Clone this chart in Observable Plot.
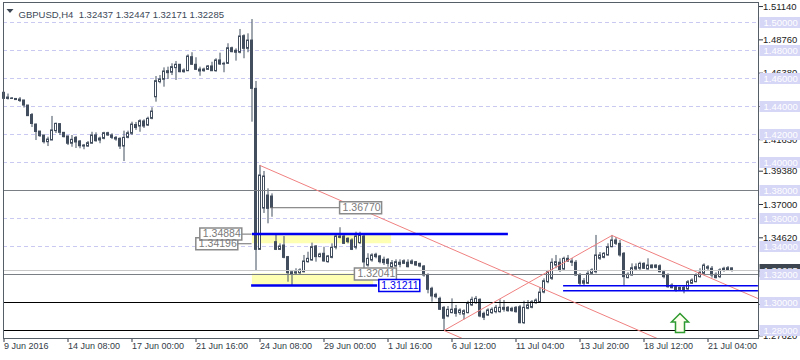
<!DOCTYPE html>
<html><head><meta charset="utf-8">
<script src="https://cdn.jsdelivr.net/npm/d3@7"></script>
<script src="https://cdn.jsdelivr.net/npm/@observablehq/plot@0.6"></script>
<style>body{margin:0;background:#fff;} #chart svg{display:block;}</style>
</head><body><div id="chart"></div>
<script>
// ---- data (H4 candles, bar index 0..182) ----
const opens = [
1.4498,1.4464,1.4457,1.4454,1.4450,1.4443,1.4407,1.4339,1.4271,1.4221,
1.4193,1.4145,1.4157,1.4224,1.4274,1.4212,1.4186,1.4134,1.4176,1.4150,
1.4121,1.4114,1.4134,1.4193,1.4171,1.4169,1.4209,1.4193,1.4176,1.4169,
1.4114,1.4176,1.4205,1.4268,1.4257,1.4293,1.4264,1.4312,1.4466,1.4574,
1.4591,1.4652,1.4641,1.4674,1.4698,1.4657,1.4652,1.4752,1.4698,1.4664,
1.4664,1.4662,1.4686,1.4652,1.4729,1.4705,1.4705,1.4816,1.4798,1.4784,
1.4902,1.4812,1.4871,1.4526,1.3376,1.3671,1.3764,1.3757,1.3431,1.3376,
1.3407,1.3324,1.3200,1.3207,1.3209,1.3216,1.3288,1.3300,1.3400,1.3324,
1.3348,1.3288,1.3319,1.3391,1.3471,1.3471,1.3455,1.3443,1.3391,1.3424,
1.3471,1.3264,1.3300,1.3341,1.3329,1.3305,1.3305,1.3252,1.3257,1.3284,
1.3276,1.3284,1.3293,1.3288,1.3276,1.3257,1.3193,1.3098,1.3055,1.3026,
1.2962,1.2900,1.2924,1.2952,1.2924,1.2914,1.2924,1.2979,1.2995,1.3019,
1.2919,1.2907,1.2924,1.2931,1.2931,1.2962,1.2962,1.2955,1.2962,1.2966,
1.2852,1.2955,1.2962,1.2995,1.3002,1.3071,1.3145,1.3169,1.3264,1.3284,
1.3236,1.3312,1.3293,1.3284,1.3193,1.3134,1.3134,1.3205,1.3216,1.3312,
1.3319,1.3336,1.3395,1.3443,1.3419,1.3348,1.3174,1.3193,1.3236,1.3241,
1.3276,1.3236,1.3264,1.3264,1.3259,1.3216,1.3193,1.3121,1.3109,1.3090,
1.3105,1.3093,1.3134,1.3145,1.3181,1.3205,1.3241,1.3241,1.3198,1.3181,
1.3229,1.3231,1.32437];
const highs = [
1.4500,1.4489,1.4464,1.4457,1.4464,1.4443,1.4407,1.4350,1.4274,1.4221,
1.4193,1.4181,1.4329,1.4281,1.4274,1.4214,1.4186,1.4193,1.4186,1.4157,
1.4129,1.4150,1.4216,1.4212,1.4181,1.4216,1.4216,1.4205,1.4186,1.4176,
1.4224,1.4224,1.4288,1.4286,1.4305,1.4305,1.4324,1.4391,1.4614,1.4621,
1.4676,1.4681,1.4705,1.4721,1.4698,1.4669,1.4769,1.4784,1.4748,1.4681,
1.4674,1.4693,1.4716,1.4741,1.4781,1.4716,1.4848,1.4824,1.4812,1.4950,
1.4912,1.4919,1.5021,1.4579,1.3979,1.3936,1.3812,1.3776,1.3479,1.3419,
1.3471,1.3329,1.3229,1.3241,1.3241,1.3336,1.3359,1.3424,1.3407,1.3352,
1.3395,1.3336,1.3419,1.3486,1.3534,1.3486,1.3462,1.3455,1.3502,1.3502,
1.3486,1.3348,1.3348,1.3352,1.3336,1.3324,1.3314,1.3300,1.3305,1.3305,
1.3305,1.3305,1.3305,1.3293,1.3281,1.3264,1.3205,1.3109,1.3066,1.3038,
1.2971,1.2971,1.3026,1.2979,1.2955,1.2948,1.3009,1.3038,1.3043,1.3026,
1.2931,1.2955,1.2962,1.2979,1.3019,1.3014,1.2971,1.2966,1.2971,1.2979,
1.3009,1.3014,1.3014,1.3026,1.3107,1.3169,1.3229,1.3312,1.3336,1.3312,
1.3324,1.3336,1.3314,1.3300,1.3207,1.3171,1.3229,1.3241,1.3479,1.3357,
1.3357,1.3419,1.3479,1.3464,1.3443,1.3357,1.3212,1.3276,1.3276,1.3288,
1.3284,1.3312,1.3269,1.3269,1.3269,1.3229,1.3205,1.3134,1.3121,1.3109,
1.3119,1.3157,1.3169,1.3205,1.3241,1.3276,1.3264,1.3257,1.3212,1.3241,
1.3252,1.3257,1.32447];
const lows = [
1.4450,1.4446,1.4450,1.4443,1.4429,1.4389,1.4329,1.4250,1.4157,1.4179,
1.4132,1.4114,1.4157,1.4207,1.4193,1.4176,1.4121,1.4109,1.4100,1.4098,
1.4091,1.4109,1.4134,1.4145,1.4134,1.4162,1.4186,1.4164,1.4152,1.4093,
1.4007,1.4169,1.4193,1.4229,1.4216,1.4243,1.4257,1.4305,1.4431,1.4562,
1.4538,1.4593,1.4621,1.4586,1.4641,1.4638,1.4652,1.4693,1.4657,1.4616,
1.4645,1.4657,1.4650,1.4645,1.4693,1.4641,1.4700,1.4784,1.4724,1.4776,
1.4741,1.4784,1.4288,1.3224,1.3376,1.3636,1.3562,1.3609,1.3371,1.3371,
1.3312,1.3145,1.3121,1.3200,1.3200,1.3212,1.3281,1.3295,1.3288,1.3319,
1.3288,1.3281,1.3312,1.3376,1.3455,1.3414,1.3419,1.3371,1.3376,1.3414,
1.3214,1.3252,1.3288,1.3312,1.3276,1.3264,1.3252,1.3241,1.3252,1.3248,
1.3271,1.3248,1.3269,1.3259,1.3248,1.3181,1.3062,1.3002,1.3026,1.2943,
1.2800,1.2891,1.2919,1.2895,1.2907,1.2876,1.2919,1.2971,1.2986,1.2891,
1.2871,1.2900,1.2914,1.2919,1.2924,1.2931,1.2931,1.2931,1.2924,1.2848,
1.2843,1.2948,1.2955,1.2986,1.2993,1.3062,1.3134,1.3157,1.3241,1.3214,
1.3229,1.3286,1.3257,1.3186,1.3121,1.3121,1.3129,1.3193,1.3205,1.3300,
1.3312,1.3331,1.3391,1.3407,1.3324,1.3121,1.3169,1.3188,1.3229,1.3229,
1.3236,1.3231,1.3241,1.3241,1.3212,1.3169,1.3102,1.3098,1.3074,1.3081,
1.3062,1.3086,1.3129,1.3141,1.3174,1.3198,1.3229,1.3174,1.3169,1.3171,
1.3216,1.3224,1.32171];
const closes = [
1.4455,1.4454,1.4454,1.4446,1.4439,1.4407,1.4331,1.4275,1.4218,1.4188,
1.4145,1.4164,1.4229,1.4276,1.4212,1.4181,1.4134,1.4162,1.4143,1.4116,
1.4114,1.4138,1.4193,1.4152,1.4157,1.4209,1.4193,1.4176,1.4164,1.4114,
1.4176,1.4209,1.4271,1.4246,1.4295,1.4257,1.4312,1.4364,1.4581,1.4593,
1.4650,1.4638,1.4681,1.4698,1.4645,1.4645,1.4757,1.4698,1.4662,1.4650,
1.4652,1.4686,1.4652,1.4729,1.4700,1.4700,1.4816,1.4788,1.4784,1.4900,
1.4812,1.4871,1.4526,1.3376,1.3907,1.3900,1.3669,1.3676,1.3376,1.3400,
1.3319,1.3209,1.3216,1.3216,1.3229,1.3293,1.3312,1.3395,1.3324,1.3343,
1.3293,1.3329,1.3391,1.3471,1.3462,1.3419,1.3431,1.3376,1.3471,1.3479,
1.3286,1.3312,1.3336,1.3324,1.3288,1.3281,1.3276,1.3281,1.3288,1.3269,
1.3295,1.3252,1.3276,1.3264,1.3257,1.3193,1.3091,1.3043,1.3038,1.2948,
1.2884,1.2948,1.2948,1.2919,1.2943,1.2938,1.2995,1.3019,1.3026,1.2900,
1.2891,1.2943,1.2948,1.2962,1.2962,1.2948,1.2938,1.2938,1.2931,1.2852,
1.2962,1.2979,1.3002,1.3014,1.3071,1.3152,1.3216,1.3284,1.3288,1.3229,
1.3312,1.3293,1.3284,1.3193,1.3134,1.3152,1.3205,1.3229,1.3336,1.3336,
1.3348,1.3395,1.3443,1.3419,1.3336,1.3181,1.3198,1.3245,1.3252,1.3276,
1.3241,1.3264,1.3245,1.3248,1.3216,1.3181,1.3109,1.3102,1.3086,1.3105,
1.3086,1.3145,1.3157,1.3193,1.3212,1.3264,1.3252,1.3193,1.3174,1.3229,
1.3241,1.3245,1.32285];

const titleText = "GBPUSD,H4  1.32437 1.32447 1.32171 1.32285";
const xTickBars = [0,16,32,48,64,80,96,112,128,144,160,176];
const xTickLabels = ["9 Jun 2016","14 Jun 08:00","17 Jun 00:00","21 Jun 16:00","24 Jun 08:00","29 Jun 00:00","1 Jul 16:00","6 Jul 12:00","11 Jul 04:00","13 Jul 20:00","18 Jul 12:00","21 Jul 04:00"];
const axisTicks = [1.51140,1.48760,1.46380,1.44000,1.41630,1.39380,1.37000,1.34620,1.32240,1.29860,1.27620];
const gridLevels = [1.50,1.48,1.46,1.44,1.42,1.40,1.38,1.36,1.34,1.32,1.30,1.28];
const grayLevels = [1.38,1.32];
const blackLevels = [1.30,1.28];
const bidPrice = 1.32285;
// trend lines: [bar1, price1, bar2, price2]
const trendBar1 = [64, 110, 152, 110];
const trendPrice1 = [1.3979, 1.2800, 1.3479, 1.2800];
const trendBar2 = [163.3, 152, 188.6, 114.6];
const trendPrice2 = [1.2743, 1.3479, 1.3027, 1.2743];
// yellow zones
const zoneBar1 = [62.1, 62.1];
const zoneBar2 = [96.9, 92.4];
const zoneTop = [1.34884, 1.32041];
const zoneBottom = [1.34196, 1.31211];
// thick blue levels
const blueThickPrice = [1.34884, 1.31211];
const blueThickBar1 = [62.1, 61.9];
const blueThickBar2 = [126.1, 93.4];
// thin blue levels
const blueThinPrice = [1.31193, 1.30836];
const blueThinBar1 = [139.9, 139.9];
const blueThinBar2 = [188.6, 188.6];
// price label boxes
const labelText = ["1.34196","1.34884","1.36770","1.32041"];
const labelPrice = [1.34196,1.34884,1.36770,1.32041];
const labelBar = [47.95,48.95,83.9,87.6];
const labelLineFrom = [58.5, 59.5, 66.6, null];
const labelLineTo = [62, 62, 83.9, null];
const blueLabelText = ["1.31211"];
const blueLabelPrice = [1.31211];
const blueLabelBar = [93.7];
// signal arrow
const arrowBar = [169];
const arrowPrice = [1.2854];

// ---- build tables ----
const candles = opens.map((o, i) => ({i, o, h: highs[i], l: lows[i], c: closes[i]}));
const bulls = candles.filter(d => d.c > d.o);
const bears = candles.filter(d => d.c <= d.o);
const trends = trendBar1.map((b, k) => ({x1: b, y1: trendPrice1[k], x2: trendBar2[k], y2: trendPrice2[k]}));
const zones = zoneBar1.map((b, k) => ({x1: b, x2: zoneBar2[k], y1: zoneBottom[k], y2: zoneTop[k]}));
const blueThick = blueThickPrice.map((p, k) => ({p, x1: blueThickBar1[k], x2: blueThickBar2[k]}));
const blueThin = blueThinPrice.map((p, k) => ({p, x1: blueThinBar1[k], x2: blueThinBar2[k]}));
const labels = labelText.map((t, k) => ({t, p: labelPrice[k], b: labelBar[k], from: labelLineFrom[k], to: labelLineTo[k]}));
const blueLabels = blueLabelText.map((t, k) => ({t, p: blueLabelPrice[k], b: blueLabelBar[k]}));
const labelLines = labels.filter(d => d.from != null);

const boxSym = (w, h) => ({draw(ctx) { ctx.moveTo(0, -h/2); ctx.lineTo(w, -h/2); ctx.lineTo(w, h/2); ctx.lineTo(0, h/2); ctx.closePath(); }});
const arrowSym = {draw(ctx) {
  ctx.moveTo(0, -9.5); ctx.lineTo(8.5, -1); ctx.lineTo(4.5, -1); ctx.lineTo(4.5, 9.5);
  ctx.lineTo(-4.5, 9.5); ctx.lineTo(-4.5, -1); ctx.lineTo(-8.5, -1); ctx.closePath(); }};
const triSym = {draw(ctx) { ctx.moveTo(-3.5, -2); ctx.lineTo(3.5, -2); ctx.lineTo(0, 2); ctx.closePath(); }};

const CANDLE = "#424e5e";
const FONT = "Liberation Sans, Arial, sans-serif";

const chart = Plot.plot({
  width: 800, height: 360,
  marginLeft: 3, marginRight: 42, marginTop: 2, marginBottom: 22,
  style: {background: "#fff", fontFamily: FONT, color: "#2e3540", overflow: "visible"},
  x: {domain: [-0.125, 188.625], ticks: xTickBars, tickFormat: () => "", tickSize: 4, label: null},
  y: {domain: [1.274286, 1.514286], axis: "right", ticks: axisTicks, tickFormat: () => "", tickSize: 4, label: null},
  marks: [
    Plot.ruleY(gridLevels, {y: d => d, stroke: "#c9c9f2", strokeDasharray: "4,3"}),
    Plot.rect(zones, {x1: "x1", x2: "x2", y1: "y1", y2: "y2", fill: "#ffffb4"}),
    Plot.ruleX(candles, {x: "i", y1: "l", y2: "h", stroke: CANDLE}),
    Plot.rect(bears, {x1: d => d.i - 0.25, x2: d => d.i + 0.25, y1: d => Math.min(d.o, d.c), y2: d => Math.max(d.o, d.c), fill: CANDLE, stroke: CANDLE}),
    Plot.rect(bulls, {x1: d => d.i - 0.25, x2: d => d.i + 0.25, y1: "o", y2: "c", fill: "#fff", stroke: CANDLE}),
    Plot.ruleY(grayLevels, {y: d => d, stroke: "#7a7f86"}),
    Plot.ruleY([bidPrice], {y: d => d, stroke: "#c8c8c8"}),
    Plot.ruleY(blackLevels, {y: d => d, stroke: "#000"}),
    Plot.link(trends, {x1: "x1", y1: "y1", x2: "x2", y2: "y2", stroke: "#f08080", strokeWidth: 1}),
    Plot.ruleY(blueThick, {y: "p", x1: "x1", x2: "x2", stroke: "#0000f0", strokeWidth: 2.5}),
    Plot.ruleY(blueThin, {y: "p", x1: "x1", x2: "x2", stroke: "#0000f0", strokeWidth: 1.5}),
    Plot.ruleY(labelLines, {y: "p", x1: "from", x2: "to", stroke: "#6e6e6e"}),
    Plot.dot(labels, {x: "b", y: "p", symbol: boxSym(42, 12), fill: "#fff", stroke: "#8a8a8a"}),
    Plot.text(labels, {x: "b", y: "p", text: "t", dx: 3, textAnchor: "start", fill: "#7a7a7a", fontSize: 10.5}),
    Plot.dot(blueLabels, {x: "b", y: "p", symbol: boxSym(41, 12), fill: "#fff", stroke: "#0000f0"}),
    Plot.text(blueLabels, {x: "b", y: "p", text: "t", dx: 2.5, textAnchor: "start", fill: "#0000f0", fontSize: 10.5}),
    Plot.dot(arrowBar.map((b, k) => ({b, p: arrowPrice[k]})), {x: "b", y: "p", symbol: arrowSym, fill: "#fffff0", stroke: "#2f9a2f", strokeWidth: 1.5}),
    Plot.frame({stroke: "#555d66"}),
    Plot.text(axisTicks, {y: d => d, text: d => d.toFixed(5), frameAnchor: "right", dx: 4.5, textAnchor: "start", fill: "#222", fontSize: 9.5}),
    Plot.dot([bidPrice], {y: d => d, frameAnchor: "right", dx: 1, symbol: boxSym(41, 13), fill: "#3d4650"}),
    Plot.text([bidPrice], {y: d => d, text: d => d.toFixed(5), frameAnchor: "right", dx: 5, textAnchor: "start", fill: "#fff", fontSize: 9.5}),
    Plot.dot(gridLevels, {y: d => d, frameAnchor: "right", dx: 1, symbol: boxSym(41, 11), fill: "#d6d6f6"}),
    Plot.text(gridLevels, {y: d => d, text: d => d.toFixed(5), frameAnchor: "right", dx: 5, textAnchor: "start", fill: "#fff", fontSize: 9.5}),
    Plot.text(xTickBars, {x: d => d, text: (d, k) => xTickLabels[k], frameAnchor: "bottom", dy: 10.5, textAnchor: "start", fill: "#333b47", fontSize: 9}),
    Plot.dot([0], {frameAnchor: "top-left", dx: 6.5, dy: 8.5, symbol: triSym, fill: "#3c4652"}),
    Plot.text([titleText], {text: d => d, frameAnchor: "top-left", dx: 15, dy: 8.7, textAnchor: "start", fill: "#3c4858", fontSize: 9.5})
  ]
});
document.getElementById("chart").appendChild(chart);
</script></body></html>
